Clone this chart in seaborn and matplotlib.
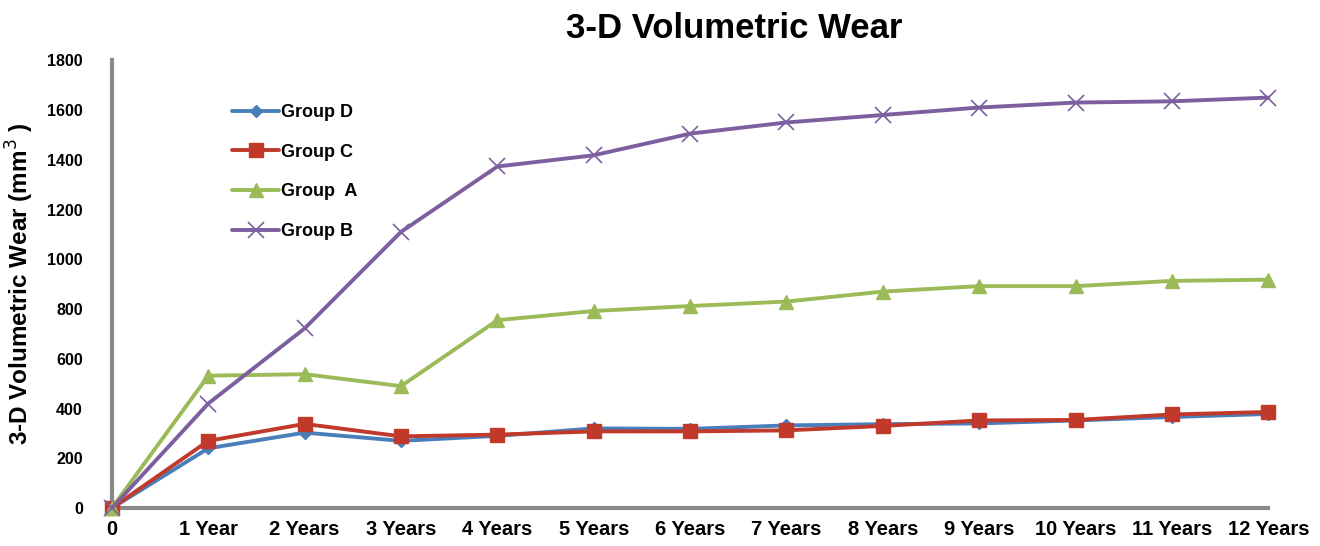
import numpy as np
import pandas as pd
import matplotlib
matplotlib.use("Agg")
import matplotlib.pyplot as plt
import seaborn as sns

# 기간 라벨
periods = ["0", "1 Year", "2 Years", "3 Years", "4 Years", "5 Years", "6 Years",
           "7 Years", "8 Years", "9 Years", "10 Years", "11 Years", "12 Years"]

group_d = [0, 240, 303, 270, 290, 320, 318, 332, 337, 340, 352, 366, 378]
group_c = [0, 270, 338, 288, 295, 308, 308, 312, 330, 352, 354, 376, 386]
group_a = [0, 532, 538, 490, 755, 792, 812, 830, 870, 892, 892, 913, 918]
group_b = [0, 420, 722, 1110, 1373, 1418, 1505, 1550, 1580, 1610, 1630, 1635, 1650]

groups = ["Group D", "Group C", "Group  A", "Group B"]
colors = ["#4A7EBB", "#C0392B", "#9BBB59", "#7D5FA0"]
marker_list = ["D", "s", "^", "x"]
marker_sizes = [6, 10, 10, 11]

df = pd.DataFrame({
    "period": np.tile(np.arange(len(periods)), 4),
    "wear": group_d + group_c + group_a + group_b,
    "group": np.repeat(groups, len(periods)),
})

sns.set_style("white")
plt.rcParams['font.family'] = ['Liberation Sans', 'DejaVu Sans']
plt.rcParams['text.color'] = 'black'
plt.rcParams['xtick.labelcolor'] = 'black'
plt.rcParams['ytick.labelcolor'] = 'black'
plt.rcParams['axes.labelcolor'] = 'black'

fig = plt.figure(figsize=(13.2, 5.46), dpi=100)
ax = fig.add_axes([0.0848, 0.0696, 0.876, 0.820])

# 그리는 순서: B, A, D, C (빨강이 파랑 위에)
for i in [3, 2, 0, 1]:
    g = groups[i]
    sns.lineplot(data=df[df["group"] == g], x="period", y="wear",
                 color=colors[i], marker=marker_list[i], markersize=marker_sizes[i],
                 markeredgecolor=colors[i], markeredgewidth=1.0 if i != 3 else 1.2,
                 linewidth=2.8, label=g, ax=ax, clip_on=False, zorder=3 + i)

ax.set_xlim(0, 12)
ax.set_ylim(0, 1800)
ax.set_xticks(np.arange(len(periods)))
ax.set_xticklabels(periods, fontsize=14.5, fontweight="bold")
ax.set_yticks(np.arange(0, 1801, 200))
ax.set_yticklabels([str(v) for v in range(0, 1801, 200)], fontsize=11.5, fontweight="bold")
ax.tick_params(axis="both", direction="out", length=4, width=1.5, color="#8c8c8c", pad=5)
ax.tick_params(axis="y", pad=17)

for s in ["top", "right"]:
    ax.spines[s].set_visible(False)
for s in ["left", "bottom"]:
    ax.spines[s].set_color("#8a8a8a")
    ax.spines[s].set_linewidth(3)

ax.set_xlabel("")
ax.set_ylabel("3-D Volumetric Wear (mm$^3$ )", fontsize=17.5, fontweight="bold", labelpad=8)
ax.set_title("")
fig.text(0.556, 0.948, "3-D Volumetric Wear", fontsize=25, fontweight="bold",
         ha="center", va="center")

handles, labels = ax.get_legend_handles_labels()
order = [labels.index(g) for g in groups]
ax.legend([handles[k] for k in order], [labels[k] for k in order],
          loc="upper left", bbox_to_anchor=(0.104, 0.902), frameon=False,
          borderaxespad=0, borderpad=0,
          labelspacing=1.25, handlelength=2.6, handletextpad=0.1,
          prop={"weight": "bold", "size": 13})

plt.savefig("out.png", dpi=100)
